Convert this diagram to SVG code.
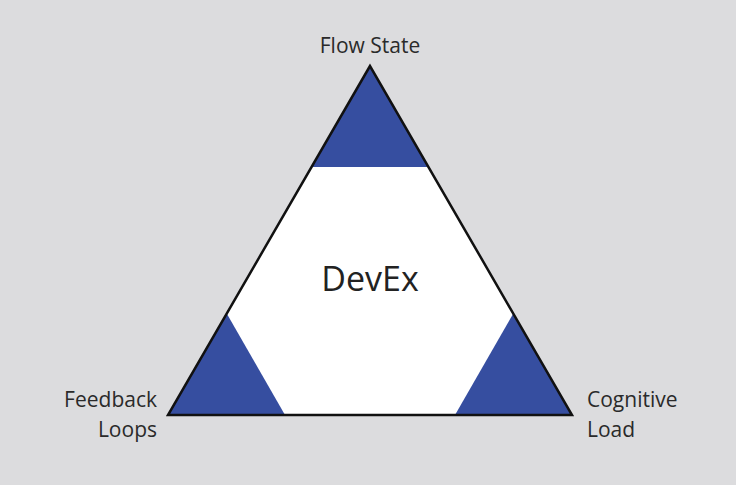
<svg xmlns="http://www.w3.org/2000/svg" width="736" height="485" viewBox="0 0 736 485">
<style>
.lbl{font-family:"Open Sans","DejaVu Sans",sans-serif;font-size:21px;fill:#2a2a2a}
.blue{fill:#364ea0}
</style>
<rect width="736" height="485" fill="#dcdcde"/>
<g id="triangle">
<polygon points="370,66 168,415 572,415" fill="#ffffff"/>
<polygon class="blue" points="370,66 312,167 428,167"/>
<polygon class="blue" points="168,415 227,314 285,415"/>
<polygon class="blue" points="572,415 513,314 455,415"/>
<polygon points="370,66 168,415 572,415" fill="none" stroke="#111" stroke-width="2.5" stroke-linejoin="miter"/>
</g>
<g id="center"><text x="370" y="291" text-anchor="middle" font-family="Open Sans,DejaVu Sans,sans-serif" font-size="34" fill="#222">DevEx</text></g>
<g id="flow"><text class="lbl" x="370" y="53" text-anchor="middle">Flow State</text></g>
<g id="feedback"><text class="lbl" x="157" y="407" text-anchor="end">Feedback</text><text class="lbl" x="157" y="437" text-anchor="end">Loops</text></g>
<g id="cognitive"><text class="lbl" x="587" y="407">Cognitive</text><text class="lbl" x="587" y="437">Load</text></g>
</svg>
